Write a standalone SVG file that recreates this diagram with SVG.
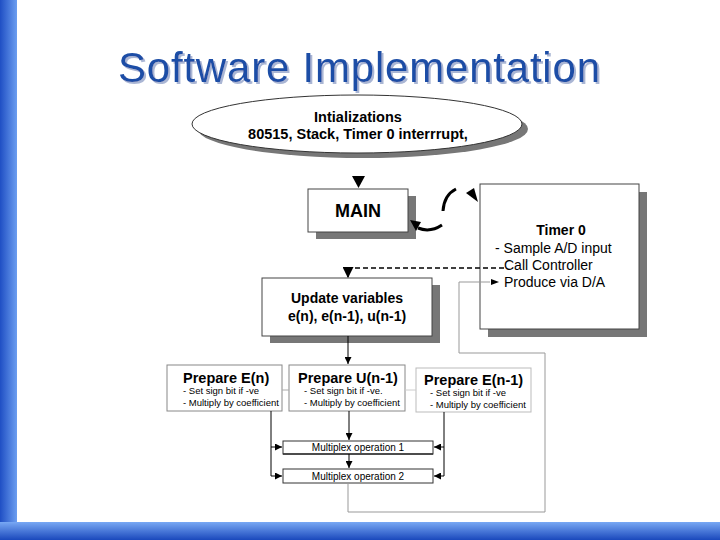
<svg xmlns="http://www.w3.org/2000/svg" width="720" height="540" viewBox="0 0 720 540">
<defs>
<linearGradient id="gLeft" x1="0" y1="0" x2="1" y2="0">
<stop offset="0" stop-color="#1f4fc4"/>
<stop offset="1" stop-color="#6c9ef0"/>
</linearGradient>
<linearGradient id="gBottom" x1="0" y1="0" x2="0" y2="1">
<stop offset="0" stop-color="#78a8f4"/>
<stop offset="1" stop-color="#1a48bc"/>
</linearGradient>
<filter id="tshadow" x="-5%" y="-20%" width="110%" height="150%">
<feDropShadow dx="2" dy="2" stdDeviation="0.6" flood-color="#aab6d4" flood-opacity="1"/>
</filter>
<marker id="ah" viewBox="0 0 10 10" refX="10" refY="5" markerWidth="8" markerHeight="7" markerUnits="userSpaceOnUse" orient="auto">
<path d="M0,0 L10,5 L0,10 z" fill="#000"/>
</marker>
<marker id="ahBig" viewBox="0 0 10 10" refX="9" refY="5" markerWidth="11" markerHeight="11" markerUnits="userSpaceOnUse" orient="auto">
<path d="M0,0 L10,5 L0,10 z" fill="#000"/>
</marker>
</defs>
<style>
.title{font-family:"Liberation Sans",Arial,sans-serif;font-size:42px;}
.b{font-family:"Liberation Sans",Arial,sans-serif;font-weight:bold;fill:#000;}
.r{font-family:"Liberation Sans",Arial,sans-serif;fill:#000;}
.box{fill:#fff;stroke:#444;stroke-width:1;}
.shadow{fill:#777;}
.thin{fill:none;stroke:#000;stroke-width:1;}
.gray{fill:none;stroke:#999;stroke-width:1;}
.pbox{fill:#fff;stroke:#888;stroke-width:1;}
</style>
<rect width="720" height="540" fill="#fff"/>
<rect x="0" y="0" width="17" height="540" fill="url(#gLeft)"/>
<rect x="0" y="522" width="720" height="18" fill="url(#gBottom)"/>

<g id="title">
<text class="title" x="118" y="82" fill="#1c4ea6" textLength="482" lengthAdjust="spacing" filter="url(#tshadow)">Software Implementation</text>
</g>

<g id="init">
<ellipse cx="363" cy="129" rx="165" ry="29" class="shadow"/>
<ellipse cx="357" cy="124" rx="165" ry="29" fill="#fff" stroke="#333" stroke-width="1"/>
<text class="b" x="358" y="122" font-size="14.5" text-anchor="middle">Intializations</text>
<text class="b" x="358" y="139" font-size="14.5" text-anchor="middle">80515, Stack, Timer 0 interrrupt,</text>
</g>

<g id="main">
<rect x="316" y="196" width="100" height="43" class="shadow"/>
<rect x="308" y="189" width="100" height="43" class="box"/>
<text class="b" x="358" y="217" font-size="18" text-anchor="middle">MAIN</text>
</g>

<g id="timer0">
<rect x="488" y="192" width="159" height="145" class="shadow"/>
<rect x="480" y="184" width="159" height="145" class="box"/>
<text class="b" x="561" y="235" font-size="14" text-anchor="middle">Timer 0</text>
<text class="r" x="495" y="253" font-size="14">- Sample A/D input</text>
<text class="r" x="504" y="270" font-size="14">Call Controller</text>
<text class="r" x="504" y="287" font-size="14">Produce via D/A</text>
</g>

<g id="update">
<rect x="270" y="285" width="170" height="58" class="shadow"/>
<rect x="262" y="278" width="170" height="58" class="box"/>
<text class="b" x="347" y="303" font-size="14" text-anchor="middle">Update variables</text>
<text class="b" x="347" y="321" font-size="14" text-anchor="middle">e(n), e(n-1), u(n-1)</text>
</g>

<g id="prepEn">
<rect x="167" y="365" width="115" height="46" class="pbox"/>
<text class="b" x="183" y="383" font-size="14.5">Prepare E(n)</text>
<text class="r" x="183" y="394" font-size="9.5">- Set sign bit if -ve</text>
<text class="r" x="183" y="406" font-size="9.5">- Multiply by coefficient</text>
</g>

<g id="prepUn1">
<rect x="289" y="365" width="116" height="46" class="pbox"/>
<text class="b" x="298" y="383" font-size="14.5">Prepare U(n-1)</text>
<text class="r" x="304" y="394" font-size="9.5">- Set sign bit if -ve.</text>
<text class="r" x="304" y="406" font-size="9.5">- Multiply by coefficient</text>
</g>

<g id="prepEn1">
<rect x="416" y="368" width="115" height="44" fill="#fff" stroke="#bbb" stroke-width="1"/>
<text class="b" x="424" y="385" font-size="14.5">Prepare E(n-1)</text>
<text class="r" x="430" y="396" font-size="9.5">- Set sign bit if -ve</text>
<text class="r" x="430" y="408" font-size="9.5">- Multiply by coefficient</text>
</g>

<g id="mux1">
<rect x="283" y="441" width="150" height="13" fill="#fff" stroke="#333" stroke-width="1"/>
<line x1="283" y1="454" x2="433" y2="454" stroke="#333" stroke-width="1.5"/>
<text class="r" x="358" y="451" font-size="10" text-anchor="middle">Multiplex operation 1</text>
</g>

<g id="mux2">
<rect x="283" y="469" width="150" height="14" fill="#fff" stroke="#333" stroke-width="1"/>
<text class="r" x="358" y="480" font-size="10" text-anchor="middle">Multiplex operation 2</text>
</g>

<g id="connectors">
<polygon points="352,176 365,176 358.5,188" fill="#000"/>
<path d="M456,189 Q444,195 443,211" fill="none" stroke="#000" stroke-width="3"/>
<polygon points="466,193 474,188 478,202" fill="#000"/>
<path d="M442,225 Q430,233 418,228" fill="none" stroke="#000" stroke-width="3"/>
<polygon points="410,220 421,222 416,231" fill="#000"/>
<path d="M504,268 L348,268 L348,277" fill="none" stroke="#000" stroke-width="1.5" stroke-dasharray="5,3" marker-end="url(#ahBig)"/>
<path d="M348,336 L348,364" class="thin" marker-end="url(#ah)"/>
<line x1="282" y1="390" x2="289" y2="390" stroke="#aaa"/>
<line x1="405" y1="390" x2="416" y2="390" stroke="#ccc"/>
<path d="M349,411 L349,440" class="thin" marker-end="url(#ah)"/>
<path d="M349,454 L349,468" class="thin" marker-end="url(#ah)"/>
<path d="M271,411 L271,476 L282,476" class="thin" marker-end="url(#ah)"/>
<path d="M271,447 L282,447" class="thin" marker-end="url(#ah)"/>
<path d="M444,412 L444,476 L434,476" class="thin" marker-end="url(#ah)"/>
<path d="M444,447 L434,447" class="thin" marker-end="url(#ah)"/>
<path d="M348,483 L348,512 L545,512 L545,353 L459,353 L459,282 L490,282" class="gray"/>
<polygon points="491,279 499,282 491,285" fill="#000"/>
</g>
</svg>
